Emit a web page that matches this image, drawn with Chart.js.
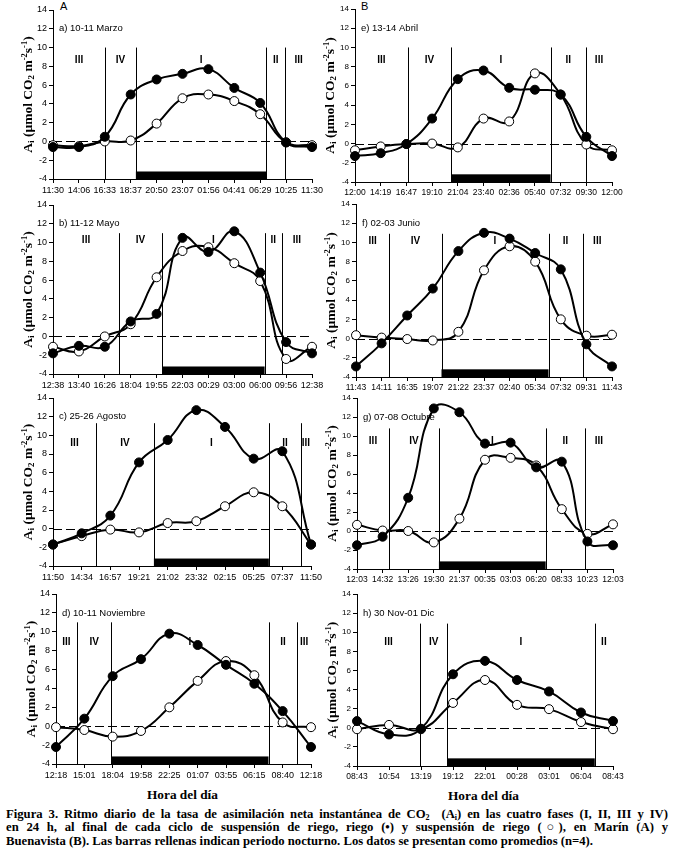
<!DOCTYPE html>
<html>
<head>
<meta charset="utf-8">
<script src="https://cdn.jsdelivr.net/npm/chart.js"></script>
<style>
  body { margin: 0; background: #fff; width: 673px; height: 856px; position: relative; overflow: hidden; }
  canvas { position: absolute; }
  .lab { position: absolute; font: 11px "Liberation Sans", Arial, sans-serif; }
  .hora { position: absolute; font: bold 13.3px/1 "Liberation Serif", "Times New Roman", serif; }
  #cap { position: absolute; left: 6px; top: 807.5px; width: 662px; font: bold 12.7px/13.7px "Liberation Serif", "Times New Roman", serif; }
  #cap div { text-align: justify; text-align-last: justify; white-space: nowrap; }
  #cap div.last { text-align-last: left; }
  #cap sub { font-size: 8px; vertical-align: -2px; line-height: 0; }
</style>
</head>
<body>
<div class="lab" style="left:60px;top:0px">A</div>
<div class="lab" style="left:361px;top:0px">B</div>
<div class="hora" style="left:147px;top:788px">Hora del día</div>
<div class="hora" style="left:448px;top:789px">Hora del día</div>
<div id="cap">
  <div>Figura 3. Ritmo diario de la tasa de asimilación neta instantánea de CO<sub>2</sub>&nbsp; (A<sub>i</sub>) en las cuatro fases (I, II, III y IV)</div>
  <div>en 24 h, al final de cada ciclo de suspensión de riego, riego (•) y suspensión de riego (○), en Marín (A) y</div>
  <div class="last">Buenavista (B). Las barras rellenas indican periodo nocturno. Los datos se presentan como promedios (n=4).</div>
</div>

<script>
// a) 10-11 Marzo
const labelsA = ["11:30", "14:06", "16:33", "18:37", "20:50", "23:07", "01:56", "04:41", "06:29", "10:25", "11:30"];
const riegoA = [-0.6, -0.6, 0.5, 5.0, 6.6, 7.2, 7.7, 5.7, 4.1, -0.1, -0.6];
const suspA = [-0.4, -0.5, 0.0, 0.1, 1.9, 4.6, 5.0, 4.3, 2.9, -0.1, -0.4];
const boundsA = [2.01, 3.2, 8.24, 8.97];

// b) 11-12 Mayo
const labelsB = ["12:38", "13:40", "16:26", "18:04", "19:55", "22:03", "00:29", "03:00", "06:00", "09:56", "12:38"];
const riegoB = [-1.8, -1.0, -1.1, 1.6, 2.4, 10.5, 9.0, 11.2, 6.8, -0.6, -1.8];
const suspB = [-1.1, -1.6, 0.0, 1.3, 6.3, 9.1, 9.5, 7.8, 5.9, -2.4, -1.1];
const boundsB = [2.55, 4.21, 8.17, 8.84];

// c) 25-26 Agosto
const labelsC = ["11:50", "14:34", "16:57", "19:21", "21:02", "23:32", "02:15", "05:25", "07:37", "11:50"];
const riegoC = [-1.7, -0.5, 1.4, 7.1, 9.5, 12.7, 10.9, 7.5, 8.3, -1.7];
const suspC = [-1.7, -0.8, -0.1, -0.4, 0.6, 0.8, 2.4, 3.9, 2.4, -1.7];
const boundsC = [1.5, 3.52, 7.53, 8.65];

// d) 10-11 Noviembre
const labelsD = ["12:18", "15:01", "18:04", "19:58", "22:25", "01:07", "03:55", "06:15", "08:40", "12:18"];
const riegoD = [-2.2, 0.8, 5.3, 7.1, 9.8, 8.6, 6.5, 4.5, 1.6, -2.2];
const suspD = [-0.1, -0.4, -1.1, -0.5, 2.0, 4.8, 6.9, 5.4, 0.4, -0.1];
const boundsD = [0.74, 1.95, 7.5, 8.52];

// e) 13-14 Abril
const labelsE = ["12:00", "14:19", "16:47", "19:10", "21:04", "23:40", "02:36", "05:40", "07:32", "09:30", "12:00"];
const riegoE = [-1.3, -1.0, -0.05, 2.6, 6.7, 7.6, 5.8, 5.6, 5.1, 0.7, -1.3];
const suspE = [-0.7, -0.3, -0.05, 0.0, -0.4, 2.6, 2.3, 7.3, 5.1, -0.1, -0.7];
const boundsE = [2.05, 3.74, 7.61, 8.99];

// f) 02-03 Junio
const labelsF = ["11:43", "14:11", "16:35", "19:07", "21:22", "23:37", "02:40", "05:34", "07:32", "09:31", "11:43"];
const riegoF = [-2.9, -0.5, 2.4, 5.2, 9.1, 11.0, 10.4, 8.9, 7.2, -0.6, -2.9];
const suspF = [0.35, 0.1, -0.05, -0.2, 0.7, 7.1, 9.6, 8.0, 2.0, 0.3, 0.4];
const boundsF = [1.3, 3.34, 7.52, 8.85];

// g) 07-08 Octubre
const labelsG = ["12:03", "14:32", "13:26", "19:30", "21:37", "00:35", "03:03", "06:20", "08:33", "10:23", "12:03"];
const riegoG = [-1.5, -0.6, 3.5, 12.9, 12.5, 9.2, 9.3, 6.7, 7.3, -1.1, -1.5];
const suspG = [0.65, 0.05, 0.0, -1.2, 1.3, 7.5, 7.7, 6.9, 2.3, -0.3, 0.7];
const boundsG = [1.25, 3.2, 7.37, 8.9];

// h) 30 Nov-01 Dic
const labelsH = ["08:43", "10:54", "13:19", "19:12", "22:01", "00:28", "03:01", "06:04", "08:43"];
const riegoH = [0.7, -0.7, -0.1, 5.6, 7.0, 5.0, 3.8, 1.6, 0.7];
const suspH = [-0.15, 0.3, -0.15, 2.6, 5.0, 2.4, 1.95, 0.6, -0.15];
const boundsH = [1.97, 2.82, 7.43];

const phases5 = ["III", "IV", "I", "II", "III"];
const phases4 = ["III", "IV", "I", "II"];

const SANS = '"Liberation Sans", Arial, sans-serif';
const SERIF = '"Liberation Serif", "Times New Roman", serif';

// plot boxes in page pixels [left, top, right, bottom]
const panels = [
  { name: "a) 10-11 Marzo", box: [53, 10, 312, 179], labels: labelsA, riego: riegoA, susp: suspA, bounds: boundsA, phases: phases5, lineTop: 10, phaseY: 8.6, col: 0 },
  { name: "b) 11-12 Mayo", box: [53, 205, 312, 374], labels: labelsB, riego: riegoB, susp: suspB, bounds: boundsB, phases: phases5, lineTop: 11, phaseY: 10.2, col: 0 },
  { name: "c) 25-26 Agosto", box: [53, 398, 311, 566], labels: labelsC, riego: riegoC, susp: suspC, bounds: boundsC, phases: phases5, lineTop: 11.3, phaseY: 9.2, col: 0 },
  { name: "d) 10-11 Noviembre", box: [56, 594, 311, 764], labels: labelsD, riego: riegoD, susp: suspD, bounds: boundsD, phases: phases5, lineTop: 11, phaseY: 8.9, col: 0 },
  { name: "e) 13-14 Abril", box: [355, 9, 612, 182], labels: labelsE, riego: riegoE, susp: suspE, bounds: boundsE, phases: phases5, lineTop: 10, phaseY: 8.7, col: 1 },
  { name: "f) 02-03 Junio", box: [356, 204, 612, 377], labels: labelsF, riego: riegoF, susp: suspF, bounds: boundsF, phases: phases5, lineTop: 10.9, phaseY: 10.1, col: 1 },
  { name: "g) 07-08 Octubre", box: [357, 398, 613, 569], labels: labelsG, riego: riegoG, susp: suspG, bounds: boundsG, phases: phases5, lineTop: 10.8, phaseY: 9.5, col: 1 },
  { name: "h) 30 Nov-01 Dic", box: [357, 594, 613, 766], labels: labelsH, riego: riegoH, susp: suspH, bounds: boundsH, phases: phases4, lineTop: 10.9, phaseY: 9.0, col: 1 },
];

// rotated y title with sub/superscripts
function drawYTitle(ctx, cx, cy) {
  const parts = [
    ["A", 13.5, 0], ["i", 9, 2], [" (µmol CO", 13.5, 0], ["2", 9, 2], [" m", 13.5, 0],
    ["-2", 8.5, -5], ["s", 13.5, 0], ["-1", 8.5, -5], [")", 13.5, 0],
  ];
  ctx.save();
  ctx.translate(cx, cy);
  ctx.rotate(-Math.PI / 2);
  ctx.textBaseline = "alphabetic";
  ctx.textAlign = "left";
  let w = 0;
  parts.forEach(p => { ctx.font = "bold " + p[1] + "px " + SERIF; w += ctx.measureText(p[0]).width; });
  let px = -w / 2;
  parts.forEach(p => {
    ctx.font = "bold " + p[1] + "px " + SERIF;
    ctx.fillText(p[0], px, 4 + p[2]);
    px += ctx.measureText(p[0]).width;
  });
  ctx.restore();
}

const extras = {
  id: "extras",
  beforeDatasetsDraw(chart, args, o) {
    const { ctx, chartArea: a } = chart;
    const x = chart.scales.x, y = chart.scales.y;
    ctx.save();
    ctx.fillStyle = "#000";
    ctx.strokeStyle = "#000";
    ctx.lineWidth = 1;

    // night bar (phase I)
    const n0 = x.getPixelForValue(o.bounds[1]), n1 = x.getPixelForValue(o.bounds[2]);
    const b0 = y.getPixelForValue(-3.2), b1 = y.getPixelForValue(-4);
    ctx.fillRect(n0, b0, n1 - n0, b1 - b0);

    // zero line
    const yz = Math.round(y.getPixelForValue(0)) + 0.5;
    ctx.setLineDash([9, 4]);
    ctx.beginPath();
    ctx.moveTo(a.left, yz);
    ctx.lineTo(a.right, yz);
    ctx.stroke();
    ctx.setLineDash([]);

    // phase limits
    o.bounds.forEach(b => {
      const px = Math.round(x.getPixelForValue(b)) + 0.5;
      ctx.beginPath();
      ctx.moveTo(px, y.getPixelForValue(o.lineTop));
      ctx.lineTo(px, a.bottom);
      ctx.stroke();
    });

    // phase names
    const edges = [0, ...o.bounds, chart.data.labels.length - 1];
    ctx.font = "bold 10px " + SANS;
    ctx.textAlign = "center";
    ctx.textBaseline = "middle";
    o.phases.forEach((p, i) => {
      const m = (edges[i] + edges[i + 1]) / 2;
      ctx.fillText(p, x.getPixelForValue(m), y.getPixelForValue(o.phaseY));
    });

    // panel name
    ctx.font = "9.5px " + SANS;
    ctx.textAlign = "left";
    ctx.fillText(o.name, a.left + 6, y.getPixelForValue(12));

    drawYTitle(ctx, a.left - 25, (a.top + a.bottom) / 2);
    ctx.restore();
  },
};

const PL = 60, PT = 10, PR = 26, PB = 20;

panels.forEach(p => {
  const [x0, y0, x1, y1] = p.box;
  const cv = document.createElement("canvas");
  const w = x1 - x0 + PL + PR, h = y1 - y0 + PT + PB;
  cv.width = w; cv.height = h;
  cv.style.left = (x0 - PL) + "px";
  cv.style.top = (y0 - PT) + "px";
  cv.style.width = w + "px";
  cv.style.height = h + "px";
  document.body.appendChild(cv);

  const xFont = p.col ? 8.5 : 9;
  const yFont = p.col ? 8 : 9;

  new Chart(cv, {
    type: "line",
    data: {
      labels: p.labels,
      datasets: [
        {
          label: "riego",
          data: p.riego,
          borderColor: "#000",
          borderWidth: 2,
          backgroundColor: "#000",
          pointBackgroundColor: "#000",
          pointBorderColor: "#000",
          pointBorderWidth: 1,
          pointRadius: 4.5,
          tension: 0.45,
        },
        {
          label: "suspensión",
          data: p.susp,
          borderColor: "#000",
          borderWidth: 2,
          backgroundColor: "#fff",
          pointBackgroundColor: "#fff",
          pointBorderColor: "#000",
          pointBorderWidth: 1,
          pointRadius: 4.5,
          tension: 0.45,
        },
      ],
    },
    options: {
      responsive: false,
      animation: false,
      devicePixelRatio: 1,
      layout: { padding: { left: 0, top: PT, right: PR, bottom: 0 } },
      plugins: {
        legend: { display: false },
        tooltip: { enabled: false },
        extras: { name: p.name, bounds: p.bounds, phases: p.phases, lineTop: p.lineTop, phaseY: p.phaseY },
      },
      scales: {
        x: {
          type: "category",
          offset: false,
          afterFit: s => { s.height = PB; },
          border: { display: true, color: "#000", width: 1 },
          grid: { display: true, drawOnChartArea: false, drawTicks: true, tickLength: 4, color: "#000", offset: false },
          ticks: { autoSkip: false, maxRotation: 0, minRotation: 0, padding: 2, color: "#000", font: { family: SANS, size: xFont } },
        },
        y: {
          min: -4,
          max: 14,
          afterFit: s => { s.width = PL; },
          border: { display: true, color: "#000", width: 1 },
          grid: { display: true, drawOnChartArea: false, drawTicks: true, tickLength: 4, color: "#000" },
          ticks: { stepSize: 2, padding: 2, color: "#000", font: { family: SANS, size: yFont } },
        },
      },
    },
    plugins: [extras],
  });
});
</script>
</body>
</html>
